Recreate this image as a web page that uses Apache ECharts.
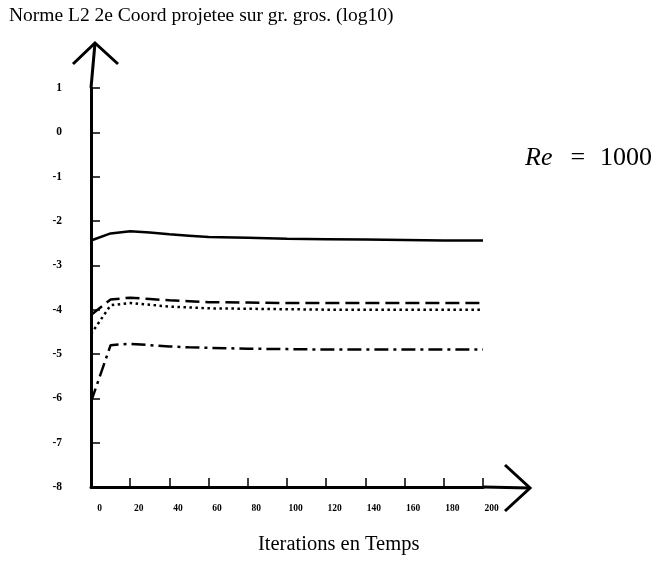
<!DOCTYPE html>
<html><head><meta charset="utf-8">
<script src="https://cdn.jsdelivr.net/npm/echarts@6/dist/echarts.min.js"></script>
<style>html,body{margin:0;padding:0;background:#fff}#c{width:663px;height:563px}</style>
</head><body><div id="c"></div>
<script>
// ---- data ----
const iterations = [0, 10, 20, 30, 40, 50, 60, 80, 100, 120, 140, 160, 180, 200];
const solidSeries   = [-2.44, -2.28, -2.23, -2.26, -2.30, -2.33, -2.36, -2.38, -2.40, -2.41, -2.42, -2.43, -2.44, -2.44];
const dashedSeries  = [-4.12, -3.77, -3.73, -3.76, -3.79, -3.81, -3.83, -3.84, -3.85, -3.85, -3.85, -3.85, -3.85, -3.85];
const dottedSeries  = [-4.55, -3.90, -3.85, -3.89, -3.93, -3.95, -3.97, -3.98, -3.99, -4.00, -4.00, -4.00, -4.00, -4.00];
const dashDotSeries = [-6.08, -4.80, -4.77, -4.80, -4.83, -4.85, -4.86, -4.88, -4.89, -4.90, -4.90, -4.90, -4.90, -4.90];
const xMin = 0, xMax = 200, xStep = 20;
const yMin = -8, yMax = 1, yStep = 1;
const yTitle = 'Norme L2 2e Coord projetee sur gr. gros. (log10)';
const xTitle = 'Iterations en Temps';

const serif = "'Liberation Serif','Times New Roman',serif";
const pairs = arr => iterations.map((t, i) => [t, arr[i]]);
const chart = echarts.init(document.getElementById('c'), null, {renderer: 'canvas'});

function lineSeries(name, data, type, width) {
  return {
    name, type: 'line', data: pairs(data), symbol: 'none', smooth: false,
    lineStyle: {color: '#000', width: width, type: type, cap: 'butt'},
    z: 3
  };
}

chart.setOption({
  animation: false,
  backgroundColor: '#fff',
  title: [
    {text: yTitle, left: 9, top: 6, padding: 0,
     textStyle: {fontFamily: serif, fontSize: 19.5, fontWeight: 'normal', color: '#000'}},
    {text: xTitle, left: 258, top: 534, padding: 0,
     textStyle: {fontFamily: serif, fontSize: 20.5, fontWeight: 'normal', color: '#000'}},
    {text: '{i|Re}{e|=}{n|1000}', left: 525, top: 145, padding: 0,
     textStyle: {fontWeight: 'normal', rich: {
       i: {fontFamily: serif, fontStyle: 'italic', fontWeight: 'normal', fontSize: 26, color: '#000'},
       e: {fontFamily: serif, fontWeight: 'normal', fontSize: 26, color: '#000', padding: [0, 15, 0, 18]},
       n: {fontFamily: serif, fontWeight: 'normal', fontSize: 26, color: '#000'}
     }}}
  ],
  grid: {left: 91, right: 180, top: 88, bottom: 76, containLabel: false},
  xAxis: {
    type: 'value', min: xMin, max: xMax, interval: xStep,
    axisLine: {onZero: false, lineStyle: {color: '#000', width: 3}},
    axisTick: {inside: true, length: 9, lineStyle: {color: '#000', width: 1.5}},
    splitLine: {show: false},
    axisLabel: {color: '#000', fontFamily: serif, fontWeight: 'bold', fontSize: 9.5, margin: 17,
                padding: [0, 0, 0, 17]}
  },
  yAxis: {
    type: 'value', min: yMin, max: yMax, interval: yStep,
    axisLine: {onZero: false, lineStyle: {color: '#000', width: 3}},
    axisTick: {inside: true, length: 9, lineStyle: {color: '#000', width: 1.5}},
    splitLine: {show: false},
    axisLabel: {color: '#000', fontFamily: serif, fontWeight: 'bold', fontSize: 11.5, margin: 29,
                padding: [0, 0, 9, 0]}
  },
  series: [
    lineSeries('solid', solidSeries, 'solid', 2.5),
    lineSeries('dashed', dashedSeries, [14, 6], 2.5),
    lineSeries('dotted', dottedSeries, [2.5, 3.5], 2.5),
    lineSeries('dashdot', dashDotSeries, [14, 5, 3, 5], 2.5)
  ]
});

// axis arrows (decoration), positioned from the axes' own scales
const pO = chart.convertToPixel({gridIndex: 0}, [xMin, yMin]);
const pTop = chart.convertToPixel({gridIndex: 0}, [xMin, yMax]);
const pRight = chart.convertToPixel({gridIndex: 0}, [xMax, yMin]);
const ax = pO[0], ay = pO[1];
const yTip = pTop[1] - 45, xTip = pRight[0] + 47;
const st = {stroke: '#000', lineWidth: 3, fill: null};
chart.setOption({
  graphic: [
    {type: 'line', shape: {x1: ax, y1: pTop[1], x2: ax + 4, y2: yTip}, style: st, z: 10},
    {type: 'polyline', shape: {points: [[ax - 18, yTip + 21], [ax + 4, yTip], [ax + 27, yTip + 21]]}, style: st, z: 10},
    {type: 'line', shape: {x1: pRight[0], y1: ay, x2: xTip, y2: ay + 1}, style: st, z: 10},
    {type: 'polyline', shape: {points: [[xTip - 25, ay - 22], [xTip, ay + 1], [xTip - 25, ay + 24]]}, style: st, z: 10}
  ]
});
</script>
</body></html>
